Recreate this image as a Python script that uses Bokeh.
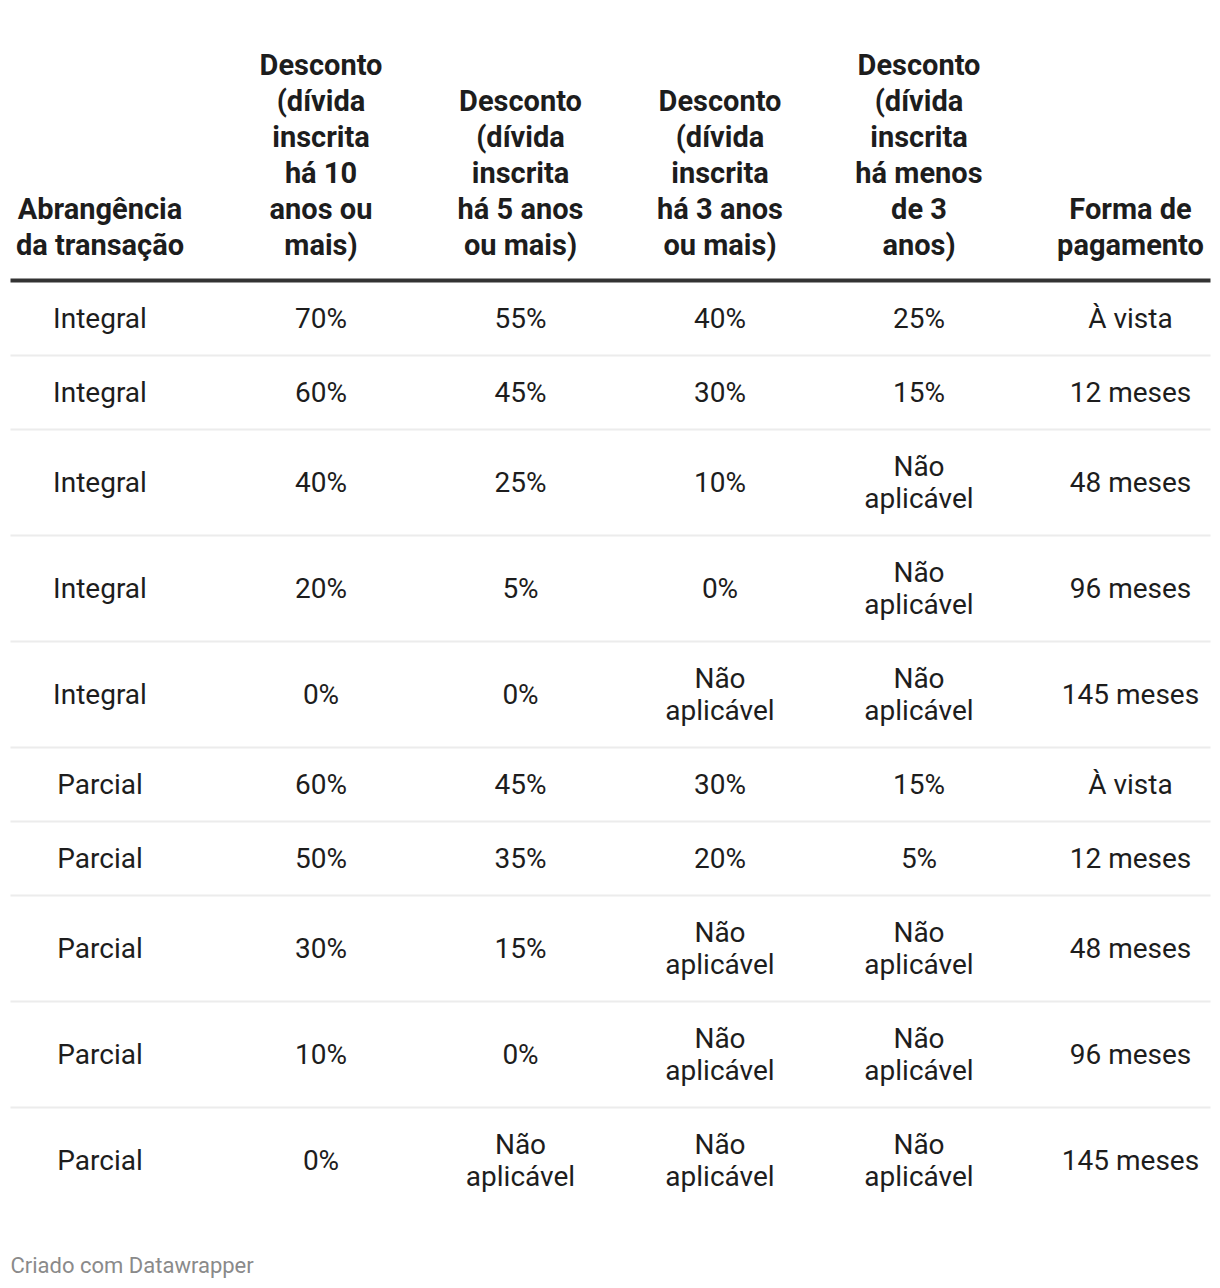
from bokeh.plotting import figure
from bokeh.models import Range1d
from bokeh.core.properties import value
from bokeh.embed import file_html
from bokeh.resources import INLINE

# ---- data ----
headers = [
    "Abrangência\nda transação",
    "Desconto\n(dívida\ninscrita\nhá 10\nanos ou\nmais)",
    "Desconto\n(dívida\ninscrita\nhá 5 anos\nou mais)",
    "Desconto\n(dívida\ninscrita\nhá 3 anos\nou mais)",
    "Desconto\n(dívida\ninscrita\nhá menos\nde 3\nanos)",
    "Forma de\npagamento",
]
abrangencia = ["Integral", "Integral", "Integral", "Integral", "Integral",
               "Parcial", "Parcial", "Parcial", "Parcial", "Parcial"]
desc_10 = ["70%", "60%", "40%", "20%", "0%", "60%", "50%", "30%", "10%", "0%"]
desc_5 = ["55%", "45%", "25%", "5%", "0%", "45%", "35%", "15%", "0%", "Não\naplicável"]
desc_3 = ["40%", "30%", "10%", "0%", "Não\naplicável", "30%", "20%",
          "Não\naplicável", "Não\naplicável", "Não\naplicável"]
desc_menos3 = ["25%", "15%", "Não\naplicável", "Não\naplicável", "Não\naplicável",
               "15%", "5%", "Não\naplicável", "Não\naplicável", "Não\naplicável"]
pagamento = ["À vista", "12 meses", "48 meses", "96 meses", "145 meses",
             "À vista", "12 meses", "48 meses", "96 meses", "145 meses"]
footer = "Criado com Datawrapper"

columns = [abrangencia, desc_10, desc_5, desc_3, desc_menos3, pagamento]

# ---- layout (page pixel coordinates) ----
W, H = 1212, 1280
col_x = [99.5, 320.5, 520, 719.5, 918.5, 1130]
left, right = 10, 1210
header_last_line_y = 244
header_step = 36
thick_y = 280
row_start = 281
body_step = 32
row_pad = 42

FONT = value("Roboto")
TEXT = "#1d1d1d"

p = figure(width=W, height=H, output_backend="svg", toolbar_location=None,
           x_range=Range1d(0, W), y_range=Range1d(H, 0),
           min_border=0, outline_line_color=None)
p.axis.visible = False
p.grid.visible = False
p.background_fill_color = "white"
p.border_fill_color = "white"

# header texts
hx, hy, ht = [], [], []
for cx, h in zip(col_x, headers):
    lines = h.split("\n")
    n = len(lines)
    for i, ln in enumerate(lines):
        hx.append(cx)
        hy.append(header_last_line_y - (n - 1 - i) * header_step)
        ht.append(ln)
p.text(x=hx, y=hy, text=ht, text_font=FONT, text_font_size="29px",
       text_font_style="bold", text_color=TEXT, text_align="center",
       text_baseline="middle")

# thick header rule
p.segment(x0=[left], y0=[thick_y], x1=[right], y1=[thick_y],
          line_color="#333333", line_width=4)

# body
bx, by, bt = [], [], []
sep_y = []
y_top = row_start
nrows = len(abrangencia)
for r in range(nrows):
    cells = [c[r] for c in columns]
    nlines = max(len(c.split("\n")) for c in cells)
    rh = row_pad + body_step * nlines
    yc = y_top + rh / 2
    for cx, c in zip(col_x, cells):
        lines = c.split("\n")
        n = len(lines)
        for i, ln in enumerate(lines):
            bx.append(cx)
            by.append(yc + (i - (n - 1) / 2) * body_step)
            bt.append(ln)
    y_top += rh
    if r < nrows - 1:
        sep_y.append(y_top)

p.segment(x0=[left] * len(sep_y), y0=sep_y, x1=[right] * len(sep_y), y1=sep_y,
          line_color="#ececec", line_width=2)
p.text(x=bx, y=by, text=bt, text_font=FONT, text_font_size="28px",
       text_color=TEXT, text_align="center", text_baseline="middle")

# footer
p.text(x=[left], y=[1265], text=[footer], text_font=FONT, text_font_size="22px",
       text_color="#8a8a8a", text_align="left", text_baseline="middle")

open("out.html", "w").write(file_html(p, INLINE))
